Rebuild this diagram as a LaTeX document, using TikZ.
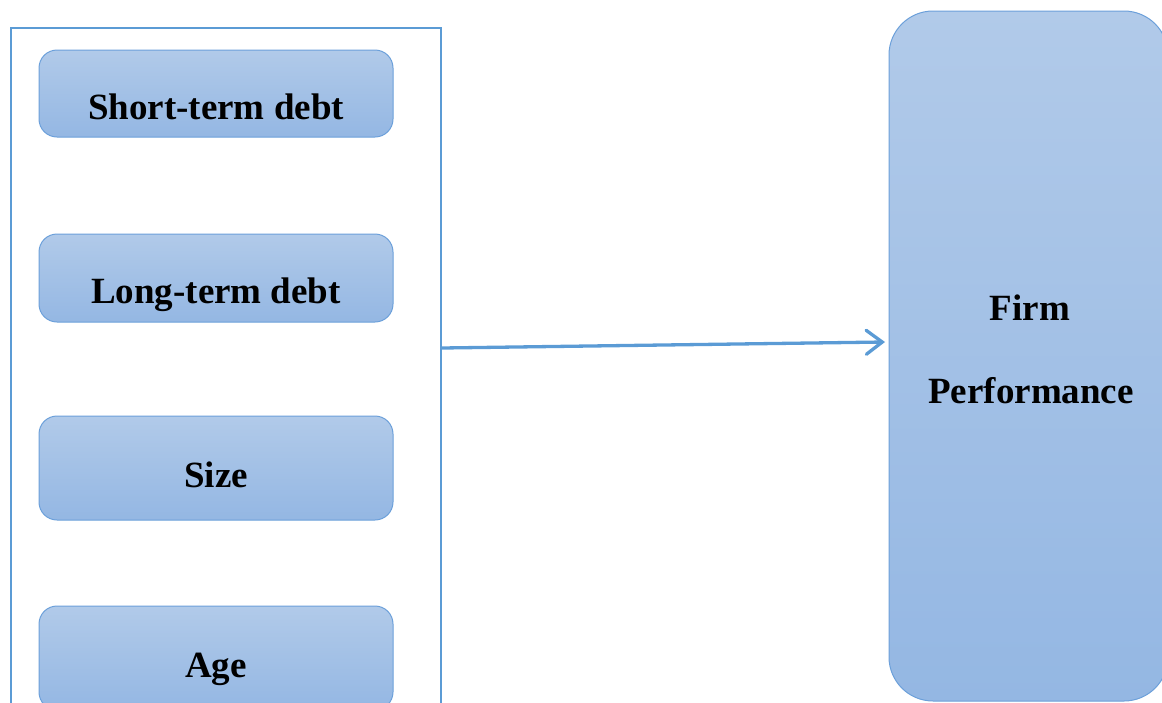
\documentclass[tikz,border=0pt]{standalone}
\usepackage{fontspec}
\setmainfont{Liberation Serif}
\usetikzlibrary{arrows.meta}
\definecolor{frameblue}{RGB}{91,155,213}
\definecolor{boxtop}{RGB}{177,202,233}
\definecolor{boxbot}{RGB}{148,183,227}
\definecolor{boxedge}{RGB}{108,160,218}
\begin{document}
\begin{tikzpicture}[x=1pt,y=-1pt,
  varbox/.style={draw=boxedge, line width=1pt, rounded corners=18pt,
    top color=boxtop, bottom color=boxbot, minimum width=354pt,
    inner sep=0pt, font=\fontsize{37}{40}\selectfont\bfseries, text depth=0pt},
  framebox/.style={draw=frameblue, line width=2.5pt, minimum width=430pt,
    minimum height=700pt, inner sep=0pt},
  bigbox/.style={draw=boxedge, line width=1pt, rounded corners=44pt,
    top color=boxtop, bottom color=boxbot, minimum width=279pt,
    minimum height=690pt, inner sep=0pt},
  lbl/.style={font=\fontsize{37}{40}\selectfont\bfseries, anchor=base, inner sep=0pt},
  conn/.style={draw=frameblue, line width=3.3pt,
    -{Straight Barb[length=16pt, width=24pt, line width=3.3pt, line cap=round]}}]
\useasboundingbox (0,0) rectangle (1162,702);
\clip (0,0) rectangle (1162,702);
\node[framebox] (frame) at (226,378) {};
\node[varbox, minimum height=87pt, text height=51pt] (std) at (216,93.5) {Short-term debt};
\node[varbox, minimum height=88pt, text height=50pt] (ltd) at (216,278) {Long-term debt};
\node[varbox, minimum height=104pt, text height=38pt] (size) at (216,468) {Size};
\node[varbox, minimum height=104pt, text height=38pt] (age) at (216,658) {Age};
\node[bigbox] (fp) at (1028.5,356) {};
\node[lbl] (firm) at (1030,320) {Firm};
\node[lbl] (perf) at (1031,403) {Performance};
\coordinate (arrstart) at (442,348);
\coordinate (arrend) at (885,342);
\draw[conn] (arrstart) -- (arrend);
\end{tikzpicture}
\end{document}
